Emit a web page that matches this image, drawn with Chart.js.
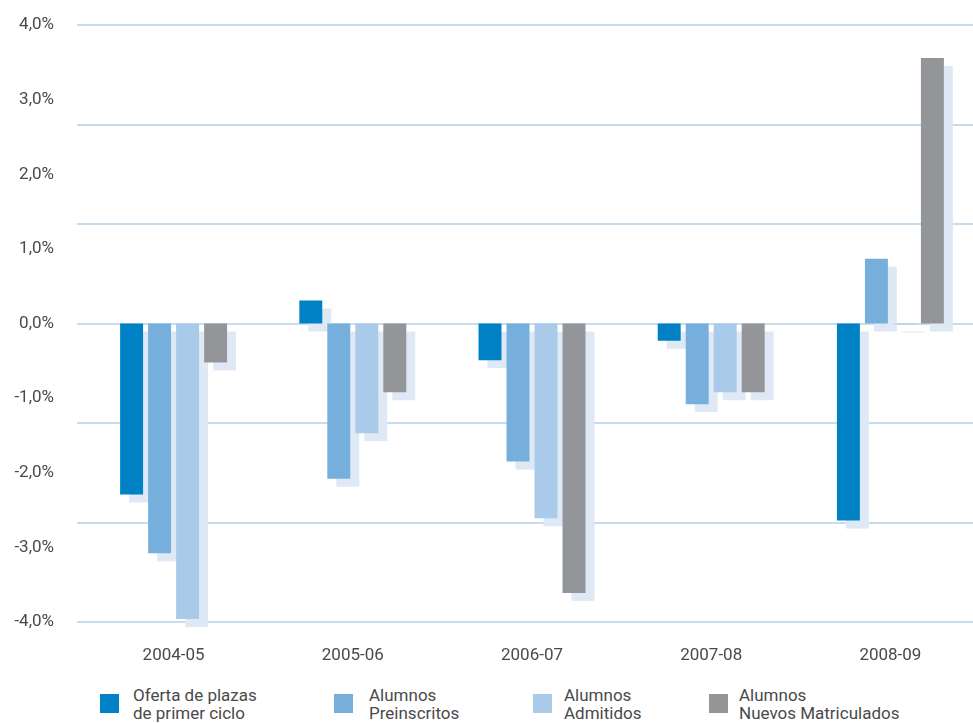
<!DOCTYPE html>
<html>
<head>
<meta charset="utf-8">
<script src="https://cdn.jsdelivr.net/npm/chart.js@4"></script>
<style>
  html, body { margin: 0; padding: 0; background: #fff; overflow: hidden; }
  #wrap { position: relative; width: 973px; height: 723px; overflow: hidden; }
  #chart { position: absolute; left: 0; top: 0; }
  .leg { position: absolute; top: 686px; font-family: Roboto, sans-serif; font-size: 17px; line-height: 18px; color: #4a4a4a; }
  .leg i { position: absolute; top: 8px; width: 19px; height: 19px; }
  .leg span { position: absolute; top: 0; white-space: nowrap; }
</style>
</head>
<body>
<div id="wrap">
  <canvas id="chart" width="980" height="680"></canvas>
  <div id="legend"></div>
</div>
<script>
// Variación anual (%)
const years = ['2004-05', '2005-06', '2006-07', '2007-08', '2008-09'];
const oferta = [-2.29, 0.31, -0.49, -0.23, -2.64];
const preinscritos = [-3.08, -2.08, -1.85, -1.08, 0.87];
const admitidos = [-3.96, -1.47, -2.61, -0.92, -0.01];
const matriculados = [-0.52, -0.92, -3.61, -0.92, 3.56];

const seriesNames = [
    ['Oferta de plazas', 'de primer ciclo'],
    ['Alumnos', 'Preinscritos'],
    ['Alumnos', 'Admitidos'],
    ['Alumnos', 'Nuevos Matriculados']
];
const colors = ['#0081c5', '#76afdb', '#a9cae9', '#949599'];
const yTicks = [-4, -3, -2, -1, 0, 1, 2, 3, 4];
const gridTicks = [-4, -8 / 3, -4 / 3, 0, 4 / 3, 8 / 3, 4];

const shadowColor = '#dfe9f5';
const gridColor = '#c6dcef';
const font = { family: 'Roboto, sans-serif', size: 17 };

// draws the offset light-blue copy of each bar behind the bars
const barShadows = {
    id: 'barShadows',
    beforeDatasetsDraw(chart) {
        const c = chart.ctx;
        c.save();
        c.fillStyle = shadowColor;
        chart.data.datasets.forEach((ds, i) => {
            chart.getDatasetMeta(i).data.forEach(bar => {
                const p = bar.getProps(['x', 'y', 'base', 'width'], true);
                const top = Math.min(p.y, p.base);
                const h = Math.max(Math.abs(p.base - p.y), 1);
                c.fillRect(p.x - p.width / 2 + 9, top + 8, p.width, h);
            });
        });
        c.restore();
    }
};

const data = [oferta, preinscritos, admitidos, matriculados];

new Chart(document.getElementById('chart'), {
    type: 'bar',
    data: {
        labels: years,
        datasets: data.map((vals, i) => ({
            label: seriesNames[i].join(' '),
            data: vals,
            backgroundColor: colors[i],
            categoryPercentage: 0.625,
            barPercentage: 0.82,
            yAxisID: 'y'
        }))
    },
    options: {
        responsive: false,
        animation: false,
        layout: { padding: { top: 23, right: 0, bottom: 0, left: 0 } },
        plugins: {
            legend: { display: false },
            tooltip: { enabled: false }
        },
        scales: {
            x: {
                grid: { display: false },
                border: { display: false },
                ticks: { font: font, color: '#4a4a4a', padding: 16 },
                afterFit(s) { s.height = 58; }
            },
            y: {
                position: 'left',
                weight: 1,
                min: -4,
                max: 4,
                afterBuildTicks(s) { s.ticks = yTicks.map(v => ({ value: v })); },
                grid: { display: false },
                border: { display: false },
                ticks: {
                    font: font,
                    color: '#4a4a4a',
                    padding: 15,
                    callback: v => v.toFixed(1).replace('.', ',') + '%'
                },
                afterFit(s) { s.width = 77; }
            },
            y2: {
                position: 'left',
                weight: 0,
                min: -4,
                max: 4,
                afterBuildTicks(s) { s.ticks = gridTicks.map(v => ({ value: v })); },
                grid: { color: gridColor, lineWidth: 2, drawTicks: true, tickLength: 7 },
                border: { display: false },
                ticks: { display: false },
                afterFit(s) { s.width = 7; }
            }
        }
    },
    plugins: [barShadows]
});

// legend below the chart
const legendPos = [[100, 133], [334, 369], [533, 564], [709, 739]];
const legend = document.getElementById('legend');
seriesNames.forEach((name, i) => {
    const d = document.createElement('div');
    d.className = 'leg';
    d.style.left = '0px';
    d.innerHTML = '<i style="left:' + legendPos[i][0] + 'px;background:' + colors[i] + '"></i>' +
        '<span style="left:' + legendPos[i][1] + 'px">' + name[0] + '<br>' + name[1] + '</span>';
    legend.appendChild(d);
});
</script>
</body>
</html>
